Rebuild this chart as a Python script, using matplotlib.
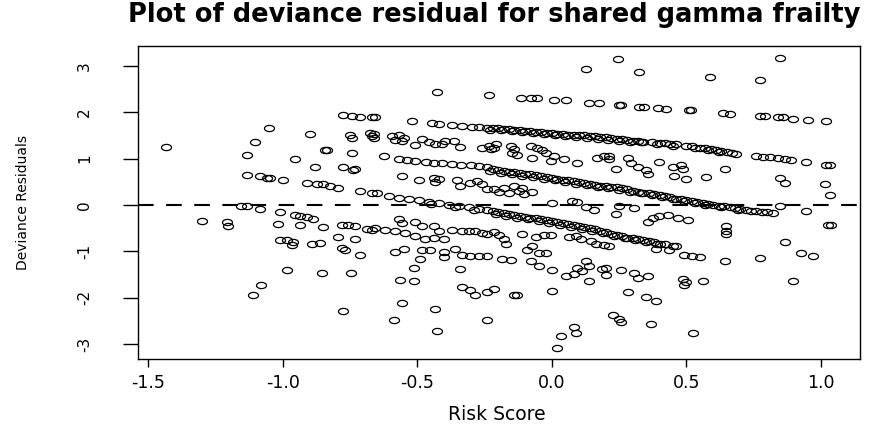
import numpy as np
import matplotlib
matplotlib.use("Agg")
import matplotlib.pyplot as plt
from matplotlib.path import Path

plt.rcParams["axes.unicode_minus"] = False

# three diagonal bands of residuals (x = risk score, y = deviance residual)
band_top_x = [-0.446, -0.421, -0.372, -0.335, -0.297, -0.272, -0.242, -0.22, -0.20, -0.18, -0.16,
              -0.14, -0.12, -0.10, -0.08, -0.06, -0.04, -0.02, 0.00, 0.02, 0.04, 0.06, 0.08, 0.10,
              0.12, 0.14, 0.16, 0.18, 0.20, 0.22, 0.24, 0.26, 0.28, 0.30, 0.32, 0.34, 0.37, 0.40,
              0.42, 0.44, 0.46, 0.50, 0.52, 0.55, 0.57, 0.59, 0.61, 0.63, 0.65, 0.67, 0.685,
              -0.23, -0.19, -0.15, -0.11, -0.07, -0.03, 0.01, 0.05, 0.09, 0.13, 0.17, 0.21,
              0.25, 0.29, 0.33, 0.39, 0.45, 0.53, 0.58, 0.62]
band_top_y = [1.76, 1.74, 1.72, 1.71, 1.69, 1.68, 1.67, 1.66, 1.66, 1.64, 1.64,
              1.62, 1.62, 1.60, 1.60, 1.58, 1.58, 1.56, 1.56, 1.54, 1.54, 1.52, 1.52, 1.50,
              1.50, 1.48, 1.48, 1.46, 1.46, 1.44, 1.43, 1.42, 1.41, 1.39, 1.38, 1.37, 1.36, 1.34,
              1.33, 1.32, 1.31, 1.28, 1.27, 1.24, 1.22, 1.20, 1.18, 1.16, 1.14, 1.12, 1.11,
              1.62, 1.61, 1.59, 1.57, 1.55, 1.53, 1.51, 1.49, 1.47, 1.45, 1.43, 1.41,
              1.39, 1.37, 1.35, 1.31, 1.28, 1.23, 1.19, 1.15]

band_mid_x = [-0.57, -0.54, -0.51, -0.47, -0.44, -0.41, -0.37, -0.34, -0.30, -0.27, -0.24, -0.22,
              -0.20, -0.18, -0.16, -0.14, -0.12, -0.10, -0.08, -0.06, -0.04, -0.02, 0.00, 0.02,
              0.04, 0.06, 0.08, 0.10, 0.12, 0.14, 0.16, 0.18, 0.20, 0.22, 0.24, 0.26, 0.28, 0.30,
              0.32, 0.34, 0.36, 0.38, 0.40, 0.42, 0.44, 0.46, 0.48, 0.50, 0.52, 0.54, 0.56, 0.58,
              0.60, 0.62, 0.64, 0.66, 0.68, 0.70, 0.72, 0.74, 0.76, 0.78, 0.80, 0.82,
              -0.23, -0.19, -0.15, -0.11, -0.07, -0.03, 0.01, 0.05, 0.09, 0.13, 0.17, 0.21,
              0.25, 0.29, 0.33, 0.37, 0.41, 0.45, 0.49, 0.53, 0.57, 0.63, 0.69]
band_mid_y = [0.99, 0.97, 0.95, 0.93, 0.91, 0.90, 0.88, 0.86, 0.86, 0.84, 0.81, 0.78,
              0.76, 0.74, 0.72, 0.71, 0.69, 0.67, 0.66, 0.64, 0.62, 0.60, 0.58, 0.56,
              0.55, 0.53, 0.51, 0.49, 0.47, 0.46, 0.44, 0.42, 0.41, 0.40, 0.38, 0.36, 0.34, 0.31,
              0.29, 0.27, 0.25, 0.23, 0.21, 0.19, 0.17, 0.14, 0.12, 0.10, 0.08, 0.06, 0.04, 0.03,
              0.01, -0.01, -0.03, -0.05, -0.07, -0.09, -0.10, -0.12, -0.13, -0.14, -0.16, -0.17,
              0.73, 0.70, 0.67, 0.63, 0.60, 0.57, 0.53, 0.50, 0.46, 0.43, 0.39, 0.36,
              0.33, 0.29, 0.25, 0.21, 0.17, 0.12, 0.08, 0.04, 0.00, -0.05, -0.11]

band_low_x = [-0.607, -0.570, -0.533, -0.496, -0.458, -0.421, -0.384, -0.347, -0.310, -0.272,
              -0.242, -0.22, -0.20, -0.18, -0.16, -0.14, -0.12, -0.10, -0.08, -0.06, -0.04,
              -0.02, 0.00, 0.02, 0.04, 0.06, 0.08, 0.10, 0.12, 0.14, 0.16, 0.18, 0.20, 0.22,
              0.24, 0.26, 0.28, 0.30, 0.32, 0.34, 0.36, 0.38, 0.40, 0.42, 0.45, 0.49, 0.52, 0.55,
              -0.45, -0.36, -0.29, -0.21, -0.17, -0.13, -0.09, -0.05, -0.01, 0.03, 0.07, 0.11,
              0.15, 0.19, 0.23, 0.27, 0.31, 0.35, 0.39]
band_low_y = [0.19, 0.16, 0.12, 0.10, 0.07, 0.04, 0.01, -0.02, -0.05, -0.08,
              -0.11, -0.13, -0.15, -0.17, -0.19, -0.21, -0.23, -0.25, -0.27, -0.29, -0.31,
              -0.33, -0.35, -0.37, -0.39, -0.41, -0.43, -0.45, -0.47, -0.50, -0.52, -0.55, -0.58,
              -0.62, -0.65, -0.67, -0.70, -0.72, -0.74, -0.76, -0.78, -0.80, -0.83, -0.85,
              -0.89, -1.07, -1.10, -1.12,
              0.03, -0.05, -0.11, -0.19, -0.23, -0.27, -0.31, -0.35, -0.39, -0.43, -0.47, -0.51,
              -0.55, -0.60, -0.66, -0.71, -0.75, -0.79, -0.84]

# scattered points, left part of the plot
pts_left = [(-1.434, 1.26), (-1.30, -0.35), (-1.21, -0.37), (-1.205, -0.45), (-1.155, -0.01),
            (-1.133, -0.02), (-1.133, 1.09), (-1.133, 0.65), (-1.105, 1.35), (-1.11, -1.93),
            (-1.052, 1.67), (-1.086, 0.63), (-1.06, 0.59), (-1.048, 0.59), (-0.999, 0.55),
            (-1.086, -0.08), (-1.011, -0.14), (-0.955, -0.22), (-0.937, -0.24), (-0.912, -0.26),
            (-0.887, -0.30), (-1.017, -0.40), (-0.937, -0.43), (-0.850, -0.48), (-1.011, -0.76),
            (-0.986, -0.76), (-0.962, -0.79), (-0.968, -0.86), (-0.893, -0.83), (-0.862, -0.81),
            (-0.794, -0.69), (-0.732, -0.73), (-0.782, -0.92), (-0.770, -0.98), (-0.714, -1.07),
            (-0.986, -1.39), (-0.856, -1.46), (-0.748, -1.46), (-1.082, -1.73), (-0.776, -2.28),
            (-0.90, 1.53), (-0.955, 1.00), (-0.844, 1.19), (-0.838, 1.18), (-0.745, 1.13),
            (-0.751, 1.50), (-0.745, 1.45), (-0.677, 1.55), (-0.670, 1.49), (-0.881, 0.81),
            (-0.776, 0.81), (-0.739, 0.76), (-0.732, 0.78), (-0.776, 1.94), (-0.745, 1.92),
            (-0.714, 1.90), (-0.670, 1.89), (-0.912, 0.48), (-0.875, 0.46), (-0.850, 0.45),
            (-0.825, 0.41), (-0.794, 0.37), (-0.714, 0.30), (-0.670, 0.27), (-0.782, -0.42),
            (-0.757, -0.44), (-0.732, -0.45), (-0.689, -0.51), (-0.670, -0.53)]

# scattered points, middle part
pts_mid = [(-0.428, 2.44), (-0.235, 2.37), (-0.657, 1.89), (-0.520, 1.81), (-0.663, 1.53),
           (-0.663, 1.45), (-0.595, 1.49), (-0.570, 1.50), (-0.551, 1.45), (-0.558, 1.38),
           (-0.583, 1.40), (-0.508, 1.29), (-0.483, 1.43), (-0.458, 1.35), (-0.434, 1.32),
           (-0.409, 1.31), (-0.397, 1.38), (-0.365, 1.38), (-0.341, 1.26), (-0.260, 1.24),
           (-0.235, 1.27), (-0.626, 1.06), (-0.558, 0.63), (-0.496, 0.53), (-0.440, 0.59),
           (-0.434, 0.50), (-0.421, 0.57), (-0.353, 0.53), (-0.341, 0.41), (-0.304, 0.48),
           (-0.279, 0.52), (-0.260, 0.45), (-0.242, 0.34), (-0.651, 0.27),
           (-0.657, -0.49), (-0.620, -0.53), (-0.583, -0.56), (-0.545, -0.60), (-0.508, -0.67),
           (-0.471, -0.74), (-0.570, -0.31), (-0.558, -0.38), (-0.508, -0.37), (-0.483, -0.45),
           (-0.440, -0.45), (-0.421, -0.56), (-0.372, -0.53), (-0.335, -0.55), (-0.310, -0.56),
           (-0.285, -0.55), (-0.260, -0.60), (-0.242, -0.63), (-0.440, -0.71), (-0.403, -0.74),
           (-0.551, -0.94), (-0.583, -1.02), (-0.483, -0.96), (-0.452, -0.97), (-0.403, -1.02),
           (-0.403, -1.12), (-0.360, -0.94), (-0.335, -1.07), (-0.304, -1.09), (-0.272, -1.09),
           (-0.242, -1.09), (-0.490, -1.16), (-0.514, -1.35), (-0.341, -1.38), (-0.564, -1.61),
           (-0.514, -1.64), (-0.335, -1.76), (-0.304, -1.84), (-0.285, -1.94), (-0.242, -1.88),
           (-0.558, -2.11), (-0.434, -2.25), (-0.589, -2.48), (-0.428, -2.71), (-0.242, -2.48),
           (0.125, 2.93), (-0.116, 2.30), (-0.079, 2.30), (-0.055, 2.30), (0.007, 2.27),
           (0.051, 2.27), (0.138, 2.20), (0.175, 2.20),
           (-0.209, 1.31), (-0.216, 1.24), (-0.228, 1.20), (-0.153, 1.27), (-0.141, 1.20),
           (-0.129, 1.09), (-0.148, 1.13), (-0.079, 1.27), (-0.055, 1.24), (-0.036, 1.19),
           (-0.023, 1.13), (-0.005, 0.95), (0.007, 1.06), (0.045, 0.99), (0.094, 0.90),
           (-0.073, 1.02), (0.168, 1.02), (0.193, 1.06),
           (-0.216, 0.34), (-0.197, 0.28), (-0.178, 0.37), (-0.160, 0.27), (-0.141, 0.41),
           (-0.123, 0.30), (-0.110, 0.37), (-0.104, 0.23), (-0.073, 0.28), (0.001, 0.05),
           (0.075, 0.09), (0.094, 0.06), (0.125, -0.04), (0.156, -0.11),
           (-0.216, -0.58), (-0.197, -0.65), (-0.178, -0.73), (-0.172, -0.83), (-0.110, -0.63),
           (-0.061, -0.68), (-0.030, -0.65), (-0.005, -0.65), (0.063, -0.68), (0.088, -0.67),
           (0.107, -0.73), (0.144, -0.78), (0.162, -0.85), (0.193, -0.87), (-0.073, -0.89),
           (-0.092, -0.97), (-0.048, -1.03), (-0.023, -1.03), (-0.185, -1.16), (-0.153, -1.19),
           (-0.079, -1.21), (-0.048, -1.32), (0.001, -1.40), (0.051, -1.52), (0.082, -1.48),
           (0.094, -1.35), (0.125, -1.21), (0.138, -1.32), (0.113, -1.43), (0.138, -1.64),
           (0.187, -1.38), (-0.216, -1.81), (-0.141, -1.95), (-0.131, -1.95), (0.001, -1.86),
           (0.082, -2.64), (0.088, -2.77), (0.032, -2.83), (0.020, -3.08)]

# scattered points, right part
pts_right = [(0.244, 3.15), (0.325, 2.86), (0.587, 2.76), (0.250, 2.15), (0.255, 2.15),
             (0.325, 2.12), (0.343, 2.12), (0.393, 2.09), (0.424, 2.08), (0.510, 2.05),
             (0.515, 2.05), (0.213, 1.06), (0.213, 0.99), (0.281, 1.02), (0.294, 0.91),
             (0.318, 0.81), (0.356, 0.68), (0.349, 0.76), (0.238, 0.77), (0.399, 0.93),
             (0.449, 0.83), (0.480, 0.86), (0.486, 0.77), (0.455, 0.63), (0.498, 0.57),
             (0.572, 0.61), (0.250, -0.01), (0.306, -0.07), (0.238, -0.19), (0.356, -0.37),
             (0.374, -0.27), (0.399, -0.24), (0.430, -0.22), (0.467, -0.29), (0.504, -0.32),
             (0.213, -0.89), (0.387, -0.94), (0.436, -0.96), (0.461, -0.89), (0.201, -1.35),
             (0.201, -1.50), (0.257, -1.40), (0.306, -1.46), (0.318, -1.57), (0.356, -1.52),
             (0.486, -1.59), (0.498, -1.66), (0.492, -1.73), (0.560, -1.64), (0.281, -1.88),
             (0.349, -1.98), (0.387, -2.07), (0.226, -2.38), (0.250, -2.46), (0.257, -2.53),
             (0.368, -2.56), (0.525, -2.77),
             (0.846, 3.18), (0.772, 2.69), (0.636, 1.99), (0.660, 1.97), (0.772, 1.92),
             (0.791, 1.91), (0.840, 1.89), (0.859, 1.89), (0.896, 1.86), (0.952, 1.84),
             (1.020, 1.81), (0.760, 1.06), (0.784, 1.04), (0.809, 1.04), (0.840, 1.01),
             (0.865, 0.99), (0.890, 0.97), (0.945, 0.93), (1.020, 0.86), (1.032, 0.86),
             (0.642, 0.77), (0.846, 0.59), (0.865, 0.48), (1.014, 0.45), (1.035, 0.22),
             (0.846, -0.02), (0.945, -0.13), (1.026, -0.42), (1.038, -0.42), (0.648, -0.45),
             (0.648, -0.55), (0.648, -0.63), (0.865, -0.80), (0.772, -1.15), (0.927, -1.04),
             (0.970, -1.10), (0.642, -1.21), (0.896, -1.63)]

x_ticks = [-1.5, -1.0, -0.5, 0.0, 0.5, 1.0]
x_labels = ["-1.5", "-1.0", "-0.5", "0.0", "0.5", "1.0"]
y_ticks = [-3, -2, -1, 0, 1, 2, 3]

# open ellipse marker (the source image is stretched sideways)
t = np.linspace(0, 2 * np.pi, 41)
ellipse = Path(np.column_stack([np.cos(t), 0.62 * np.sin(t)]))

fig = plt.figure(figsize=(8.92, 4.26), dpi=100)
ax = fig.add_axes([138 / 892, 1 - 359 / 426, 722 / 892, 313 / 426])

scatter_x = band_top_x + band_mid_x + band_low_x + [p[0] for p in pts_left + pts_mid + pts_right]
scatter_y = band_top_y + band_mid_y + band_low_y + [p[1] for p in pts_left + pts_mid + pts_right]
ax.plot(scatter_x, scatter_y, linestyle="none", marker=ellipse, markersize=7.2,
        markerfacecolor="none", markeredgecolor="black", markeredgewidth=0.9)

ax.axhline(0, color="black", linewidth=1.5, linestyle=(0, (7.5, 6)))

ax.set_xlim(-1.539, 1.145)
ax.set_ylim(-3.32, 3.43)
ax.set_xticks(x_ticks)
ax.set_xticklabels(x_labels, fontsize=12.5)
ax.set_yticks(y_ticks)
ax.set_yticklabels([str(v) for v in y_ticks], fontsize=11, rotation=90, va="center")
ax.tick_params(axis="x", length=6, width=1, pad=5)
ax.tick_params(axis="y", length=11, width=1, pad=22)
for s in ax.spines.values():
    s.set_linewidth(1)

fig.text(494 / 892, 1 - 15 / 426, "Plot of deviance residual for shared gamma frailty",
         fontsize=18.5, fontweight="bold", ha="center", va="center")
fig.text(497 / 892, 1 - 414 / 426, "Risk Score", fontsize=13.5, ha="center", va="center")
fig.text(23 / 892, 1 - 203 / 426, "Deviance Residuals", fontsize=10, rotation=90,
         ha="center", va="center")

fig.savefig("out.png", dpi=100)
